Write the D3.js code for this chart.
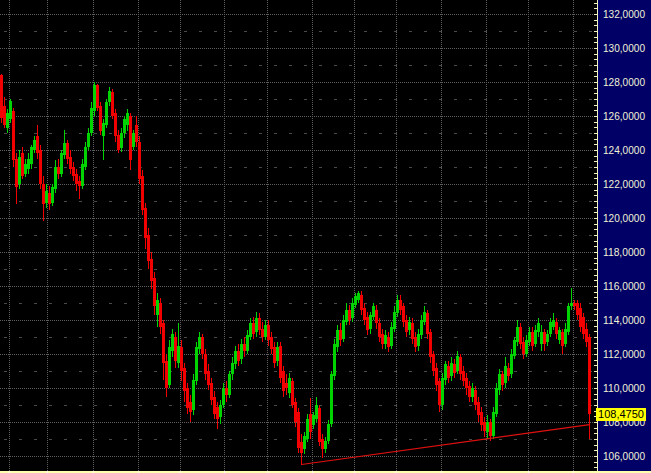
<!DOCTYPE html>
<html>
<head>
<meta charset="utf-8">
<script src="https://cdn.jsdelivr.net/npm/d3@7"></script>
<style>
html,body{margin:0;padding:0;background:#000;}
svg{display:block;}
</style>
</head>
<body>
<svg id="chart" width="651" height="473"></svg>
<script>
// ---- data ----
const opens = [128.4,126.6,125.3,125.8,126.3,123.5,122.0,123.8,122.6,122.9,123.2,124.0,124.8,124.0,122.0,120.9,121.5,120.9,121.7,123.0,
122.6,123.7,124.4,123.6,123.0,122.6,122.2,121.9,123.0,124.2,125.0,126.3,127.8,126.6,124.8,125.5,126.8,127.4,126.2,124.9,
124.1,125.0,125.5,126.0,124.2,125.5,124.5,122.5,120.6,119.0,117.6,116.5,114.3,115.0,113.8,111.6,110.2,112.2,113.0,111.5,
112.4,111.2,110.0,109.2,108.7,110.4,112.3,113.0,112.0,111.0,110.3,109.5,108.9,108.3,109.0,110.0,109.6,110.8,111.4,112.2,
111.7,112.6,112.2,113.0,113.8,113.3,114.1,113.5,113.0,113.7,113.0,112.4,111.6,112.5,111.0,110.3,109.7,110.4,109.2,108.6,
106.8,106.4,107.0,108.5,107.8,108.2,108.8,107.0,106.4,106.9,107.9,110.7,112.4,113.4,112.9,113.9,114.6,114.1,114.9,115.2,
115.5,114.7,114.2,113.5,114.2,114.6,113.8,113.2,112.6,113.0,112.5,113.5,114.4,115.2,114.8,114.0,113.4,113.8,113.0,112.5,
113.1,113.9,114.4,113.3,112.0,111.2,110.4,109.0,110.5,111.3,110.7,111.4,111.0,111.8,111.0,110.6,110.1,109.5,109.9,109.2,
108.6,108.0,107.4,108.0,107.2,108.5,109.9,110.8,110.3,111.2,110.8,111.9,112.7,113.6,112.7,112.0,112.7,113.3,112.6,113.3,
112.6,113.3,112.7,113.2,113.6,113.9,112.8,113.3,112.6,113.3,114.8,115.0,115.0,114.7,114.2,113.5,113.0];
const highs = [128.5,127.1,126.4,127.0,126.5,123.8,124.0,124.2,123.5,123.8,124.3,124.8,125.5,124.3,122.5,122.0,121.9,122.0,123.4,123.5,
124.0,125.2,124.6,124.0,123.3,122.9,122.5,123.5,124.5,125.3,126.8,128.0,127.9,126.8,125.8,127.0,127.7,127.6,126.4,125.2,
125.3,126.0,126.4,126.2,125.2,126.0,124.8,122.8,120.9,119.4,118.0,116.8,115.6,115.3,114.0,112.0,112.8,113.5,113.3,113.8,
112.8,111.5,110.3,109.6,110.8,112.7,113.3,113.2,112.3,111.4,110.6,109.8,109.2,109.3,110.3,110.4,111.0,111.8,112.5,112.6,
112.9,113.0,113.4,114.1,114.2,114.5,114.4,113.9,114.0,114.0,113.3,112.7,112.7,112.7,111.3,110.8,110.9,110.6,109.4,108.8,
107.3,107.4,108.5,109.4,108.6,109.5,109.0,107.3,107.1,108.1,111.0,112.9,113.7,113.8,114.3,115.0,114.9,115.3,115.6,115.7,
115.7,115.0,114.5,114.5,115.0,114.9,114.1,113.5,113.4,113.3,113.9,114.8,115.5,115.5,115.0,114.3,114.2,114.1,113.3,113.5,
114.3,114.8,114.6,113.5,112.2,111.5,110.6,110.9,111.6,111.6,111.8,111.7,112.2,112.0,111.3,110.9,110.4,110.3,110.1,109.5,
108.9,108.3,108.4,108.2,108.9,110.3,111.1,111.0,111.8,111.5,112.3,113.0,114.0,113.8,113.0,113.1,113.6,113.6,113.7,114.1,
113.7,113.5,113.4,114.1,114.4,114.1,113.6,113.5,113.8,115.0,115.9,115.2,115.2,115.0,114.4,113.8,113.2];
const lows = [125.6,125.3,125.0,125.6,123.0,120.8,121.7,122.3,122.4,122.6,122.9,123.8,123.5,121.7,119.8,120.6,120.5,120.7,121.5,122.3,
122.4,123.5,123.2,122.6,122.2,121.6,121.1,121.7,122.8,124.0,124.8,126.0,126.3,124.9,123.4,125.3,126.6,125.8,124.5,123.8,
123.9,124.7,125.1,122.8,124.0,124.2,122.0,120.2,118.2,117.0,115.8,114.3,113.6,113.2,110.5,109.5,110.0,111.8,111.2,111.2,
110.4,109.2,108.5,108.0,108.4,110.2,112.0,111.7,110.5,109.9,109.0,108.2,107.6,107.9,108.8,109.2,109.4,110.5,111.1,111.3,
111.4,111.8,112.0,112.8,112.9,113.0,113.1,112.7,112.8,112.5,112.0,111.2,111.3,110.3,109.5,109.6,109.4,108.8,107.7,106.2,
105.5,106.1,106.8,107.0,107.6,108.0,106.6,105.9,106.2,106.7,107.7,110.5,112.1,112.5,112.7,113.7,113.7,113.9,114.7,115.0,
114.3,113.7,113.1,113.2,114.0,113.5,112.7,112.3,112.3,112.1,112.3,113.3,114.2,114.3,113.6,113.0,113.1,112.6,112.1,112.2,
112.9,113.7,112.9,111.5,110.7,109.8,108.6,108.7,110.2,110.3,110.4,110.6,110.8,110.5,110.1,109.6,109.2,109.2,108.7,108.0,
107.5,107.1,107.0,106.9,107.0,108.3,109.6,109.8,110.0,110.4,110.6,111.7,112.5,112.3,111.7,111.8,112.5,112.2,112.4,113.0,
112.2,112.2,112.5,113.0,113.4,112.9,112.6,112.0,112.4,113.1,114.6,114.6,114.0,113.3,112.9,112.4,107.0];
const closes = [125.9,125.5,126.2,126.9,123.4,121.8,123.6,122.5,123.2,123.5,124.2,124.6,123.8,122.0,120.8,121.6,120.8,121.8,123.0,122.6,
123.8,124.4,123.5,122.9,122.5,122.0,121.9,123.2,124.2,125.0,126.5,127.8,126.5,125.1,125.6,126.8,127.5,126.0,124.8,124.0,
125.0,125.8,126.2,123.4,125.0,124.5,122.3,120.5,118.8,117.5,116.3,114.8,115.2,113.6,111.5,110.0,112.4,113.2,111.6,112.5,
111.0,109.8,108.8,108.6,110.5,112.4,113.0,112.0,110.8,110.2,109.3,108.5,108.2,109.0,110.0,109.6,110.8,111.5,112.2,111.6,
112.6,112.2,113.1,113.8,113.2,114.1,113.4,113.0,113.7,112.8,112.3,111.5,112.4,110.6,109.8,110.0,110.6,109.0,108.0,106.5,
106.2,107.2,108.2,107.4,108.4,109.0,106.8,106.4,106.9,107.9,110.8,112.6,113.4,112.8,114.0,114.6,114.0,115.0,115.4,115.6,
114.6,114.0,113.4,114.3,114.8,113.8,113.0,112.6,113.1,112.4,113.6,114.5,115.2,114.6,113.9,113.3,113.9,112.9,112.4,113.2,
114.0,114.5,113.2,111.8,111.0,110.2,109.0,110.6,111.4,110.6,111.5,110.9,111.9,110.8,110.4,110.0,109.5,110.0,109.0,108.4,
107.8,107.5,108.0,107.2,108.6,110.0,110.8,110.2,111.3,110.7,112.0,112.8,113.6,112.6,112.0,112.8,113.3,112.5,113.4,113.8,
113.3,112.6,113.2,113.9,114.0,113.2,113.4,112.5,113.5,114.8,115.0,114.8,114.3,113.6,113.2,112.7,108.475];
const priceTicks = [106,108,110,112,114,116,118,120,122,124,126,128,130,132];
const minorPrices = [105,107,109,111,113,115,117,119,121,123,125,127,129,131,133];
const monthStartBars = [3,16,31,46,60,75,89,104,118,132,147,162,176,191];
const trendStart = {bar:100, price:105.5};
const trendEnd = {bar:196, price:107.85};

// ---- chart ----
const W = 651, H = 473;
const plotRight = 597, plotBottom = 471;
const svg = d3.select("#chart");
const n = closes.length;
const bars = d3.range(n).map(i => ({i, o:opens[i], h:highs[i], l:lows[i], c:closes[i]}));

const x = d3.scaleLinear().domain([0, n]).range([0, 3*n]);   // bar index -> left edge
const y = d3.scaleLinear().domain([106, 132]).range([456, 14]);
const crisp = v => Math.round(v) + 0.5;
const fmt = v => d3.format(".4f")(v).replace(".", ",");

svg.append("rect").attr("width", W).attr("height", H).attr("fill", "#000");

// grid
const grid = svg.append("g");
grid.selectAll("line.h").data(priceTicks).join("line")
  .attr("x1", 0).attr("x2", plotRight - 1)
  .attr("y1", d => crisp(y(d))).attr("y2", d => crisp(y(d)))
  .attr("stroke", "#5e5e5e").attr("stroke-dasharray", "1,1");
grid.selectAll("line.m").data(minorPrices).join("line")
  .attr("x1", 4).attr("x2", plotRight - 1)
  .attr("y1", d => crisp(y(d))).attr("y2", d => crisp(y(d)))
  .attr("stroke", "#4a4a4a").attr("stroke-dasharray", "3,12");
grid.selectAll("line.v").data(monthStartBars).join("line")
  .attr("x1", d => crisp(x(d) - 0.5)).attr("x2", d => crisp(x(d) - 0.5))
  .attr("y1", 0).attr("y2", plotBottom)
  .attr("stroke", "#5e5e5e").attr("stroke-dasharray", "1,1");

// candles
const up = "#00d400", down = "#f20000";
const cg = svg.append("g").attr("shape-rendering", "crispEdges");
cg.selectAll("line.w").data(bars).join("line")
  .attr("x1", d => x(d.i) + 1.5).attr("x2", d => x(d.i) + 1.5)
  .attr("y1", d => y(d.h)).attr("y2", d => y(d.l))
  .attr("stroke", d => d.c >= d.o ? up : down).attr("stroke-width", 1);
cg.selectAll("rect").data(bars).join("rect")
  .attr("x", d => x(d.i)).attr("width", 3)
  .attr("y", d => y(Math.max(d.o, d.c)))
  .attr("height", d => Math.max(1, Math.abs(y(d.o) - y(d.c))))
  .attr("fill", d => d.c >= d.o ? up : down);

// trend line
svg.append("line")
  .attr("x1", x(trendStart.bar) + 1.5).attr("y1", y(trendStart.price))
  .attr("x2", x(trendEnd.bar) + 1.5).attr("y2", y(trendEnd.price))
  .attr("stroke", "#e01010").attr("stroke-width", 1.2);

// right axis panel
svg.append("rect").attr("x", plotRight).attr("y", 0).attr("width", W - plotRight).attr("height", plotBottom)
  .attr("fill", "#000066");
const axisG = svg.append("g").attr("transform", `translate(${plotRight},0)`);
const axis = d3.axisLeft(y).tickValues(d3.range(105, 134.01, 1/3)).tickSize(3).tickFormat("");
axisG.call(axis);
axisG.select(".domain").remove();
axisG.selectAll(".tick line").attr("stroke", "#f0f0c0").attr("shape-rendering", "crispEdges");
svg.append("line").attr("x1", plotRight + 0.5).attr("x2", plotRight + 0.5).attr("y1", 0).attr("y2", plotBottom)
  .attr("stroke", "#f0f0c0");

// price labels; the 108 label sits behind the last-price tag, as in the reference
svg.append("g").selectAll("text").data(priceTicks).join("text")
  .attr("x", 603).attr("y", d => y(d) + 4)
  .attr("font-family", "Liberation Sans, Arial, sans-serif").attr("font-size", "11.5px")
  .attr("fill", "#f2f2d6")
  .attr("textLength", 42).attr("lengthAdjust", "spacingAndGlyphs")
  .text(d => fmt(d));

// last price label
const last = closes[n - 1];
const lg = svg.append("g");
lg.append("rect").attr("x", 596).attr("y", Math.round(y(last)) - 6).attr("width", 50).attr("height", 13)
  .attr("fill", "#ffff00");
lg.append("text").attr("x", 598).attr("y", y(last) + 4)
  .attr("font-family", "Liberation Sans, Arial, sans-serif").attr("font-size", "11.5px")
  .attr("fill", "#000").attr("textLength", 46).attr("lengthAdjust", "spacingAndGlyphs")
  .text(fmt(last));

// bottom axis strip
svg.append("rect").attr("x", 0).attr("y", plotBottom).attr("width", W).attr("height", H - plotBottom)
  .attr("fill", "#ffffb0");
svg.append("g").selectAll("rect").data(monthStartBars).join("rect")
  .attr("x", d => Math.round(x(d) - 0.5)).attr("y", plotBottom).attr("width", 1).attr("height", 2)
  .attr("fill", "#ffffff");
</script>
</body>
</html>
